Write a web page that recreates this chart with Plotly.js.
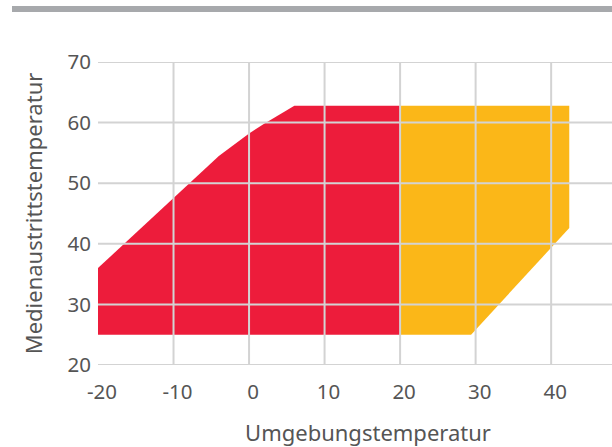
<!DOCTYPE html>
<html>
<head>
<meta charset="utf-8">
<script src="https://cdn.plot.ly/plotly-3.0.1.min.js"></script>
<style>
html,body{margin:0;padding:0;overflow:hidden;background:#fff;width:612px;height:447px;}
#chart{width:640px;height:447px;}
</style>
</head>
<body>
<div id="chart"></div>
<script>
// Data
const xTicks = [-20, -10, 0, 10, 20, 30, 40];
const yTicks = [20, 30, 40, 50, 60, 70];
const redX = [-20, -4, 0, 2, 6, 20, 20, -20];
const redY = [36, 54.5, 58.2, 59.8, 62.8, 62.8, 25, 25];
const yellowX = [20, 42.4, 42.4, 29.4, 20];
const yellowY = [62.8, 62.8, 42.6, 25, 25];
const xTitle = 'Umgebungstemperatur';
const yTitle = 'Medienaustrittstemperatur';

const xMin = -20, xMax = 51.5, yMin = 20, yMax = 70;
const gridColor = '#d3d3d3';
const textColor = '#555555';
const fontFam = '"Noto Sans", "Open Sans", sans-serif';

const traces = [
  {x: redX, y: redY, type: 'scatter', mode: 'none', fill: 'toself', fillcolor: '#ED1C3B', hoverinfo: 'skip', showlegend: false},
  {x: yellowX, y: yellowY, type: 'scatter', mode: 'none', fill: 'toself', fillcolor: '#FBB718', hoverinfo: 'skip', showlegend: false}
];

const shapes = [];
xTicks.filter(t => t > xMin).forEach(t => shapes.push({
  type: 'line', layer: 'above', xref: 'x', yref: 'y', x0: t, x1: t, y0: yMin, y1: yMax,
  line: {color: gridColor, width: 2}
}));
yTicks.forEach(t => shapes.push({
  type: 'line', layer: 'above', xref: 'paper', yref: 'y', x0: 0, x1: 1, y0: t, y1: t,
  line: {color: gridColor, width: 2}
}));
// top decorative bar
shapes.push({
  type: 'rect', layer: 'above', xref: 'paper', yref: 'paper',
  x0: (12 - 98) / 540, x1: 1.1, y0: 1 + (62 - 12) / 303, y1: 1 + (62 - 6) / 303,
  fillcolor: '#a7a9ac', line: {width: 0}
});

const layout = {
  width: 640, height: 447,
  margin: {l: 98, r: 2, t: 62, b: 82},
  paper_bgcolor: '#ffffff', plot_bgcolor: '#ffffff',
  font: {family: fontFam, color: textColor, size: 20},
  showlegend: false,
  xaxis: {
    range: [xMin, xMax], tickvals: xTicks, ticktext: xTicks.map(String),
    showgrid: false, zeroline: false, showline: false, ticks: '',
    ticklabelstandoff: 12, ticklabelshift: 4,
    tickfont: {size: 20.5, color: textColor, family: fontFam},
    title: {text: xTitle, font: {size: 22, color: textColor, family: fontFam}, standoff: 22},
    fixedrange: true
  },
  yaxis: {
    range: [yMin, yMax], tickvals: yTicks, ticktext: yTicks.map(String),
    showgrid: false, zeroline: false, showline: false, ticks: '',
    ticklabelstandoff: 6,
    tickfont: {size: 20.5, color: textColor, family: fontFam},
    title: {text: yTitle, font: {size: 22, color: textColor, family: fontFam}, standoff: 18},
    fixedrange: true
  },
  shapes: shapes
};

Plotly.newPlot('chart', traces, layout, {staticPlot: true, displayModeBar: false});
</script>
</body>
</html>
